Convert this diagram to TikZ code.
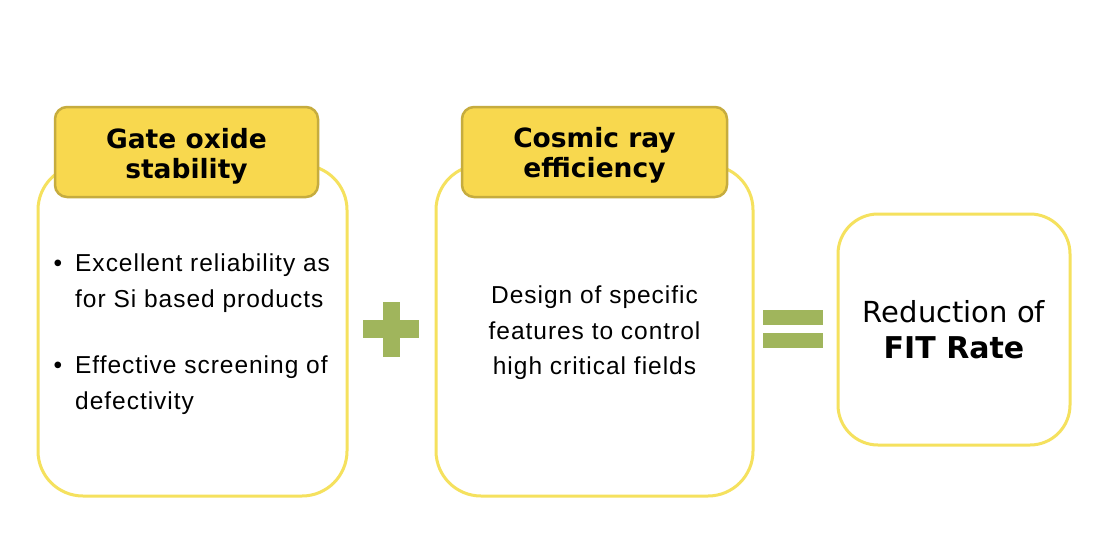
\documentclass[tikz,border=0pt]{standalone}
\usepackage{fontspec}
\setmainfont{Liberation Sans}
\newfontfamily\bodyfont[LetterSpace=4]{Liberation Sans}
\newfontfamily\headfont{DejaVu Sans}
\definecolor{boxline}{HTML}{F5E15E}
\definecolor{headfill}{HTML}{F8D84E}
\definecolor{headline}{HTML}{C6AC3E}
\definecolor{symgreen}{HTML}{A0B55C}
\tikzset{
  bigbox/.style={draw=boxline, line width=3pt, fill=white, rounded corners=45pt, inner sep=0pt},
  headbox/.style={draw=headline, line width=2.5pt, fill=headfill, rounded corners=12pt, inner sep=0pt},
  headtxt/.style={font=\headfont\bfseries\fontsize{26.5}{30}\selectfont, anchor=base, inner sep=0pt},
  bodytxt/.style={font=\bodyfont\fontsize{24.5}{36}\selectfont, inner sep=0pt},
  resulttxt/.style={font=\headfont\fontsize{29}{36}\selectfont, anchor=base, inner sep=0pt},
  sym/.style={fill=symgreen, draw=none, inner sep=0pt},
}
\begin{document}
\begin{tikzpicture}[x=1pt, y=-1pt]
\useasboundingbox[fill=white] (0,0) rectangle (1115,535);
% big boxes
\node[bigbox, minimum width=309pt, minimum height=331pt] (b1) at (192.5,330.5) {};
\node[bigbox, minimum width=317pt, minimum height=331pt] (b2) at (594.5,330.5) {};
\node[bigbox, rounded corners=40pt, minimum width=232pt, minimum height=231pt] (b3) at (954,329.5) {};
% headers
\node[headbox, minimum width=263pt, minimum height=90pt] (h1) at (186.5,152) {};
\node[headbox, minimum width=265pt, minimum height=90pt] (h2) at (594.5,152) {};
\node[headtxt] (h1a) at (186.5,148) {Gate oxide};
\node[headtxt] (h1b) at (186.5,178) {stability};
\node[headtxt] (h2a) at (594.5,147) {Cosmic ray};
\node[headtxt] (h2b) at (594.5,177) {efficiency};
% box 1 text
\node[bodytxt, anchor=base] (bul1) at (58,271) {•};
\node[bodytxt, anchor=base west] (t1a) at (75,271) {Excellent reliability as};
\node[bodytxt, anchor=base west] (t1b) at (75,307) {for Si based products};
\node[bodytxt, anchor=base] (bul2) at (58,373) {•};
\node[bodytxt, anchor=base west] (t1c) at (75,373) {Effective screening of};
\node[bodytxt, anchor=base west] (t1d) at (75,409) {defectivity};
% box 2 text
\node[bodytxt, anchor=base] (t2a) at (594.5,303) {Design of specific};
\node[bodytxt, anchor=base] (t2b) at (594.5,339) {features to control};
\node[bodytxt, anchor=base] (t2c) at (594.5,374) {high critical fields};
% box 3 text
\node[resulttxt] (t3a) at (954,322) {Reduction of};
\node[resulttxt, font=\headfont\bfseries\fontsize{30}{36}\selectfont] (t3b) at (954,358) {FIT Rate};
% plus
\node[sym, minimum width=17pt, minimum height=55pt] (plusv) at (391.5,329.5) {};
\node[sym, minimum width=56pt, minimum height=18pt] (plush) at (391,329) {};
% equals
\node[sym, minimum width=60pt, minimum height=15pt] (eq1) at (793,317.5) {};
\node[sym, minimum width=60pt, minimum height=15pt] (eq2) at (793,340.5) {};
\end{tikzpicture}
\end{document}
